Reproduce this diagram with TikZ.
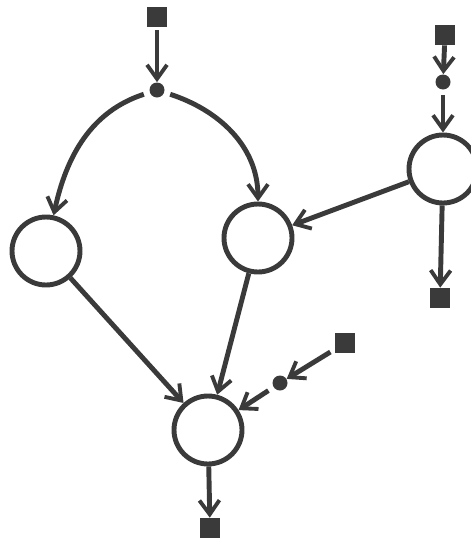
\documentclass[tikz,border=0pt]{standalone}
\usepackage{xcolor}
\usepackage{tikz}
\usetikzlibrary{arrows.meta, positioning, calc}
\definecolor{ink}{HTML}{3A3A3A}

\tikzset{
  place/.style={circle, draw=ink, line width=2.8pt, minimum size=1.36cm, inner sep=0pt},
  junction/.style={circle, fill=ink, minimum size=0.3cm, inner sep=0pt},
  port/.style={rectangle, fill=ink, minimum size=0.4cm, inner sep=0pt},
  flow/.style={-{Straight Barb[length=0.28cm, width=0.4cm, line width=2.2pt]}, ink, line width=2.8pt}
}

\begin{document}
\begin{tikzpicture}
  \useasboundingbox (0,0) rectangle (9.4,-10.88);

  % Nodes
  \node[port] (srcA) at (3.14,-0.34) {};
  \node[junction] (dotA) at (3.14,-1.8) {};
  \node[place] (pL) at (0.92,-5.02) {};
  \node[place] (pM) at (5.16,-4.76) {};
  \node[port] (srcB) at (8.9,-0.7) {};
  \node[junction] (dotB) at (8.86,-1.64) {};
  \node[place] (pR) at (8.86,-3.38) {};
  \node[port] (sinkB) at (8.8,-5.96) {};
  \node[port] (srcC) at (6.9,-6.86) {};
  \node[junction] (dotC) at (5.6,-7.66) {};
  \node[place] (pB) at (4.16,-8.6) {};
  \node[port] (sinkA) at (4.2,-10.56) {};

  % Flows
  \draw[flow, shorten <=0.5mm] (srcA) -- (dotA);
  \draw[flow, shorten <=1.2mm] (dotA) to[out=198, in=78] (pL);
  \draw[flow, shorten <=1.2mm] (dotA) to[out=-18, in=90] (pM);
  \draw[flow] (srcB) -- (dotB);
  \draw[flow, shorten <=1mm] (dotB) -- (pR);
  \draw[flow] (pR) -- (sinkB);
  \draw[flow] (pR) -- (pM);
  \draw[flow] (pL) -- (pB);
  \draw[flow] (pM) -- (pB);
  \draw[flow, shorten <=1mm] (srcC) -- (dotC);
  \draw[flow, shorten <=1.2mm] (dotC) -- (pB);
  \draw[flow] (pB) -- (sinkA);
\end{tikzpicture}
\end{document}
